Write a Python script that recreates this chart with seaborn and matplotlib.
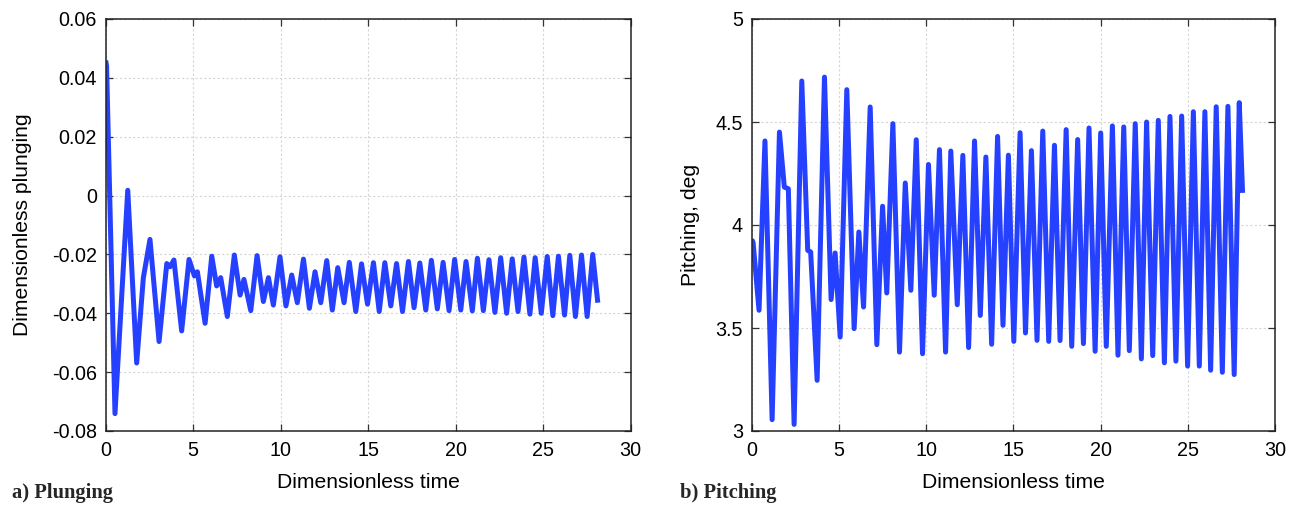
import matplotlib
matplotlib.use("Agg")
import matplotlib.pyplot as plt
import seaborn as sns
import pandas as pd

# ---------------- data ----------------
plunge_t = [0.00, 0.05, 0.53, 1.26, 1.77, 2.15, 2.53, 3.05, 3.49, 3.68, 3.90, 4.34,
            4.76, 5.07, 5.24, 5.68, 6.06, 6.34, 6.57, 6.95, 7.35, 7.68, 7.90, 8.29,
            8.65, 9.01, 9.30, 9.58, 9.96, 10.30, 10.63, 10.95, 11.30, 11.64, 11.96, 12.29,
            12.63, 12.95, 13.26, 13.62, 13.92, 14.29, 14.62, 14.96, 15.30, 15.63, 15.95, 16.29,
            16.62, 16.96, 17.30, 17.62, 17.95, 18.29, 18.61, 18.95, 19.28, 19.62, 19.94, 20.29,
            20.59, 20.95, 21.24, 21.58, 21.90, 22.24, 22.57, 22.91, 23.23, 23.56, 23.90, 24.24,
            24.54, 24.89, 25.23, 25.55, 25.87, 26.22, 26.52, 26.84, 27.19, 27.51, 27.83, 28.12]
plunge_v = [0.0459, 0.044, -0.0741, 0.0018, -0.0569, -0.028, -0.0149, -0.0496, -0.0231, -0.0242, -0.0219, -0.0460,
            -0.0217, -0.0273, -0.0259, -0.0434, -0.0206, -0.0307, -0.0279, -0.0411, -0.0202, -0.0338, -0.0285, -0.0391,
            -0.0204, -0.0360, -0.0279, -0.0372, -0.0208, -0.0375, -0.0270, -0.0364, -0.0216, -0.0383, -0.0259, -0.0364,
            -0.0221, -0.0389, -0.0245, -0.0364, -0.0227, -0.0394, -0.0232, -0.0369, -0.0228, -0.0394, -0.0228, -0.0375,
            -0.0231, -0.0394, -0.0224, -0.0381, -0.0229, -0.0389, -0.0220, -0.0385, -0.0227, -0.0391, -0.0217, -0.0389,
            -0.0224, -0.0392, -0.0213, -0.0391, -0.0218, -0.0397, -0.0211, -0.0400, -0.0215, -0.0394, -0.0209, -0.0403,
            -0.0211, -0.0400, -0.0207, -0.0408, -0.0206, -0.0406, -0.0203, -0.0411, -0.0202, -0.0411, -0.0200, -0.0364]

pitch_t = [0.00, 0.08, 0.42, 0.76, 1.17, 1.59, 1.87, 2.10, 2.43, 2.87, 3.21, 3.38,
           3.75, 4.17, 4.55, 4.78, 5.07, 5.45, 5.87, 6.14, 6.41, 6.79, 7.17, 7.50,
           7.74, 8.09, 8.47, 8.80, 9.12, 9.43, 9.79, 10.13, 10.46, 10.76, 11.11, 11.41,
           11.78, 12.10, 12.43, 12.77, 13.10, 13.42, 13.75, 14.09, 14.40, 14.71, 15.02, 15.38,
           15.69, 16.03, 16.35, 16.68, 17.02, 17.35, 17.67, 18.02, 18.34, 18.68, 19.01, 19.33,
           19.68, 20.00, 20.32, 20.67, 20.99, 21.32, 21.64, 21.98, 22.33, 22.63, 22.98, 23.30,
           23.65, 23.97, 24.31, 24.64, 24.98, 25.31, 25.65, 25.97, 26.30, 26.62, 26.97, 27.29,
           27.65, 27.94, 28.13]
pitch_v = [3.930, 3.915, 3.586, 4.408, 3.055, 4.451, 4.184, 4.176, 3.032, 4.699, 3.877, 3.869,
           3.246, 4.718, 3.638, 3.864, 3.456, 4.657, 3.497, 3.966, 3.602, 4.573, 3.419, 4.091,
           3.670, 4.492, 3.383, 4.204, 3.683, 4.414, 3.375, 4.294, 3.659, 4.366, 3.383, 4.359,
           3.613, 4.338, 3.405, 4.408, 3.561, 4.330, 3.421, 4.430, 3.513, 4.339, 3.435, 4.448,
           3.476, 4.361, 3.440, 4.456, 3.435, 4.387, 3.439, 4.463, 3.411, 4.415, 3.424, 4.471,
           3.387, 4.447, 3.411, 4.481, 3.368, 4.476, 3.390, 4.492, 3.350, 4.500, 3.366, 4.508,
           3.331, 4.527, 3.339, 4.529, 3.315, 4.550, 3.315, 4.550, 3.295, 4.574, 3.285, 4.576,
           3.274, 4.594, 4.156]

x_ticks = [0, 5, 10, 15, 20, 25, 30]
plunge_ticks = [0.06, 0.04, 0.02, 0, -0.02, -0.04, -0.06, -0.08]
plunge_tick_labels = ["0.06", "0.04", "0.02", "0", "-0.02", "-0.04", "-0.06", "-0.08"]
pitch_ticks = [5, 4.5, 4, 3.5, 3]
pitch_tick_labels = ["5", "4.5", "4", "3.5", "3"]

# ---------------- style ----------------
sns.set_theme(style="white")
plt.rcParams["font.family"] = ["Liberation Sans", "DejaVu Sans"]

LINE = "#2541ff"

fig = plt.figure(figsize=(13, 5.05), dpi=100)
ax1 = fig.add_axes([105.7 / 1300, 74 / 505, 525 / 1300, 412 / 505])
ax2 = fig.add_axes([751.7 / 1300, 74 / 505, 523.5 / 1300, 412 / 505])

df1 = pd.DataFrame({"t": plunge_t, "v": plunge_v})
df2 = pd.DataFrame({"t": pitch_t, "v": pitch_v})

sns.lineplot(data=df1, x="t", y="v", ax=ax1, color=LINE, lw=3.6, estimator=None,
             sort=False, solid_joinstyle="round", solid_capstyle="butt")
sns.lineplot(data=df2, x="t", y="v", ax=ax2, color=LINE, lw=3.6, estimator=None,
             sort=False, solid_joinstyle="round", solid_capstyle="butt")

for ax, yt, ytl, ylim, ylab, ylab_x in [
    (ax1, plunge_ticks, plunge_tick_labels, (-0.08, 0.06), "Dimensionless plunging", -0.14),
    (ax2, pitch_ticks, pitch_tick_labels, (3, 5), "Pitching, deg", -0.098),
]:
    ax.set_xlim(0, 30)
    ax.set_ylim(*ylim)
    ax.set_xticks(x_ticks)
    ax.set_xticklabels([str(v) for v in x_ticks])
    ax.set_yticks(yt)
    ax.set_yticklabels(ytl)
    ax.grid(True, color="#d5d5d5", linestyle=(0, (2, 2)), linewidth=0.8)
    ax.set_axisbelow(True)
    for s in ax.spines.values():
        s.set_color("#222222")
        s.set_linewidth(1.1)
        s.set_visible(True)
    ax.tick_params(direction="in", length=5, width=0.9, color="#333333",
                   top=True, right=True, bottom=True, left=True,
                   labelsize=14.2, labelcolor="black")
    ax.tick_params(axis="x", pad=7.5)
    ax.tick_params(axis="y", pad=6.3)
    ax.set_xlabel("Dimensionless time", fontsize=15.2, color="black")
    ax.set_ylabel(ylab, fontsize=15.2, color="black")
    ax.xaxis.set_label_coords(0.5, -0.102)
    ax.yaxis.set_label_coords(ylab_x, 0.5)

fig.text(12 / 1300, 1 - 493 / 505, "a) Plunging", fontsize=14.8, fontweight="bold",
         family=["Liberation Serif", "DejaVu Serif"], va="center", ha="left")
fig.text(680 / 1300, 1 - 493 / 505, "b) Pitching", fontsize=14.8, fontweight="bold",
         family=["Liberation Serif", "DejaVu Serif"], va="center", ha="left")

fig.savefig("out.png", dpi=100)
